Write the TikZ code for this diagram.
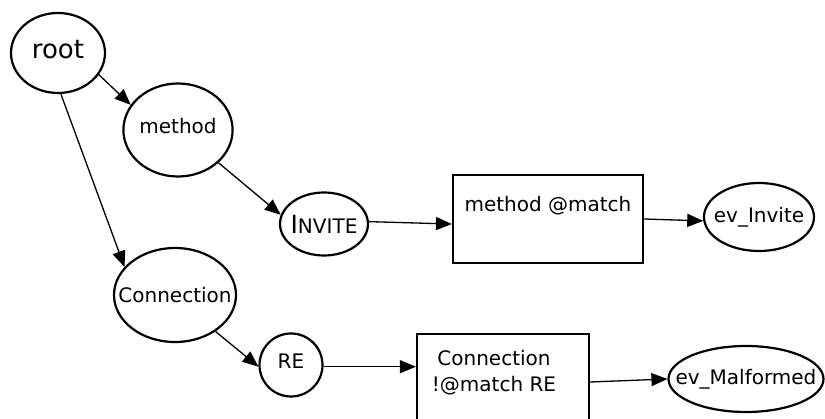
\documentclass[tikz,border=0pt]{standalone}
\usepackage{fontspec}
\setmainfont{DejaVu Sans}
\usepackage{xcolor}
\usepackage{tikz}
\usetikzlibrary{shapes.geometric, arrows.meta}

\begin{document}
\begin{tikzpicture}[
    x=1pt, y=-1pt,
    state/.style={ellipse, draw, line width=2.2pt, inner sep=0pt, font=\fontsize{20}{24}\selectfont},
    box/.style={rectangle, draw, line width=2.2pt},
    boxtext/.style={inner sep=0pt, align=center, font=\fontsize{20}{26}\selectfont},
    arrow/.style={-{Triangle[length=16pt,width=13pt]}, line width=1.3pt}
]
    \useasboundingbox (0,0) rectangle (825,419);

    \node[state, minimum width=94pt, minimum height=80pt, text depth=8pt, font=\fontsize{26}{31}\selectfont] (root) at (58,53) {root};
    \node[state, minimum width=109pt, minimum height=93pt, text depth=8pt] (method) at (178,130) {method};
    \node[state, minimum width=88pt, minimum height=63pt, inner xsep=-3pt] (invite) at (324,224) {{\fontsize{25}{30}\selectfont I}NVITE};
    \node[state, minimum width=122pt, minimum height=94pt, inner xsep=-14pt] (conn) at (175,295) {Connection};
    \node[state, circle, minimum size=63pt, text depth=7pt] (re) at (291,365) {RE};
    \node[state, minimum width=110pt, minimum height=68pt, inner xsep=-8pt] (evinvite) at (759,217) {ev\_Invite};
    \node[state, minimum width=155pt, minimum height=66pt, inner xsep=-17pt] (evmalformed) at (746,379) {ev\_Malformed};

    \node[box, minimum width=190pt, minimum height=88pt] (matchbox) at (548,219) {};
    \node[boxtext] (matchtext) at (548,206) {method @match};
    \node[box, minimum width=172pt, minimum height=96pt] (nomatchbox) at (503,382) {};
    \node[boxtext] (nomatchtext) at (494,373) {Connection\\!@match RE};

    \draw[arrow] (root.-28) -- (method.152);
    \draw[arrow] (method.-39) -- (invite.168);
    \draw[arrow] (root.-86) -- (conn.151);
    \draw[arrow] (conn.-42) -- (re.183);
    \draw[arrow] (invite.3) -- (matchbox.183);
    \draw[arrow] (matchbox.east) -- (evinvite.184);
    \draw[arrow] (re.-3) -- (re.-3 -| nomatchbox.west);
    \draw[arrow] (nomatchbox.east) -- (evmalformed.west);
\end{tikzpicture}
\end{document}
